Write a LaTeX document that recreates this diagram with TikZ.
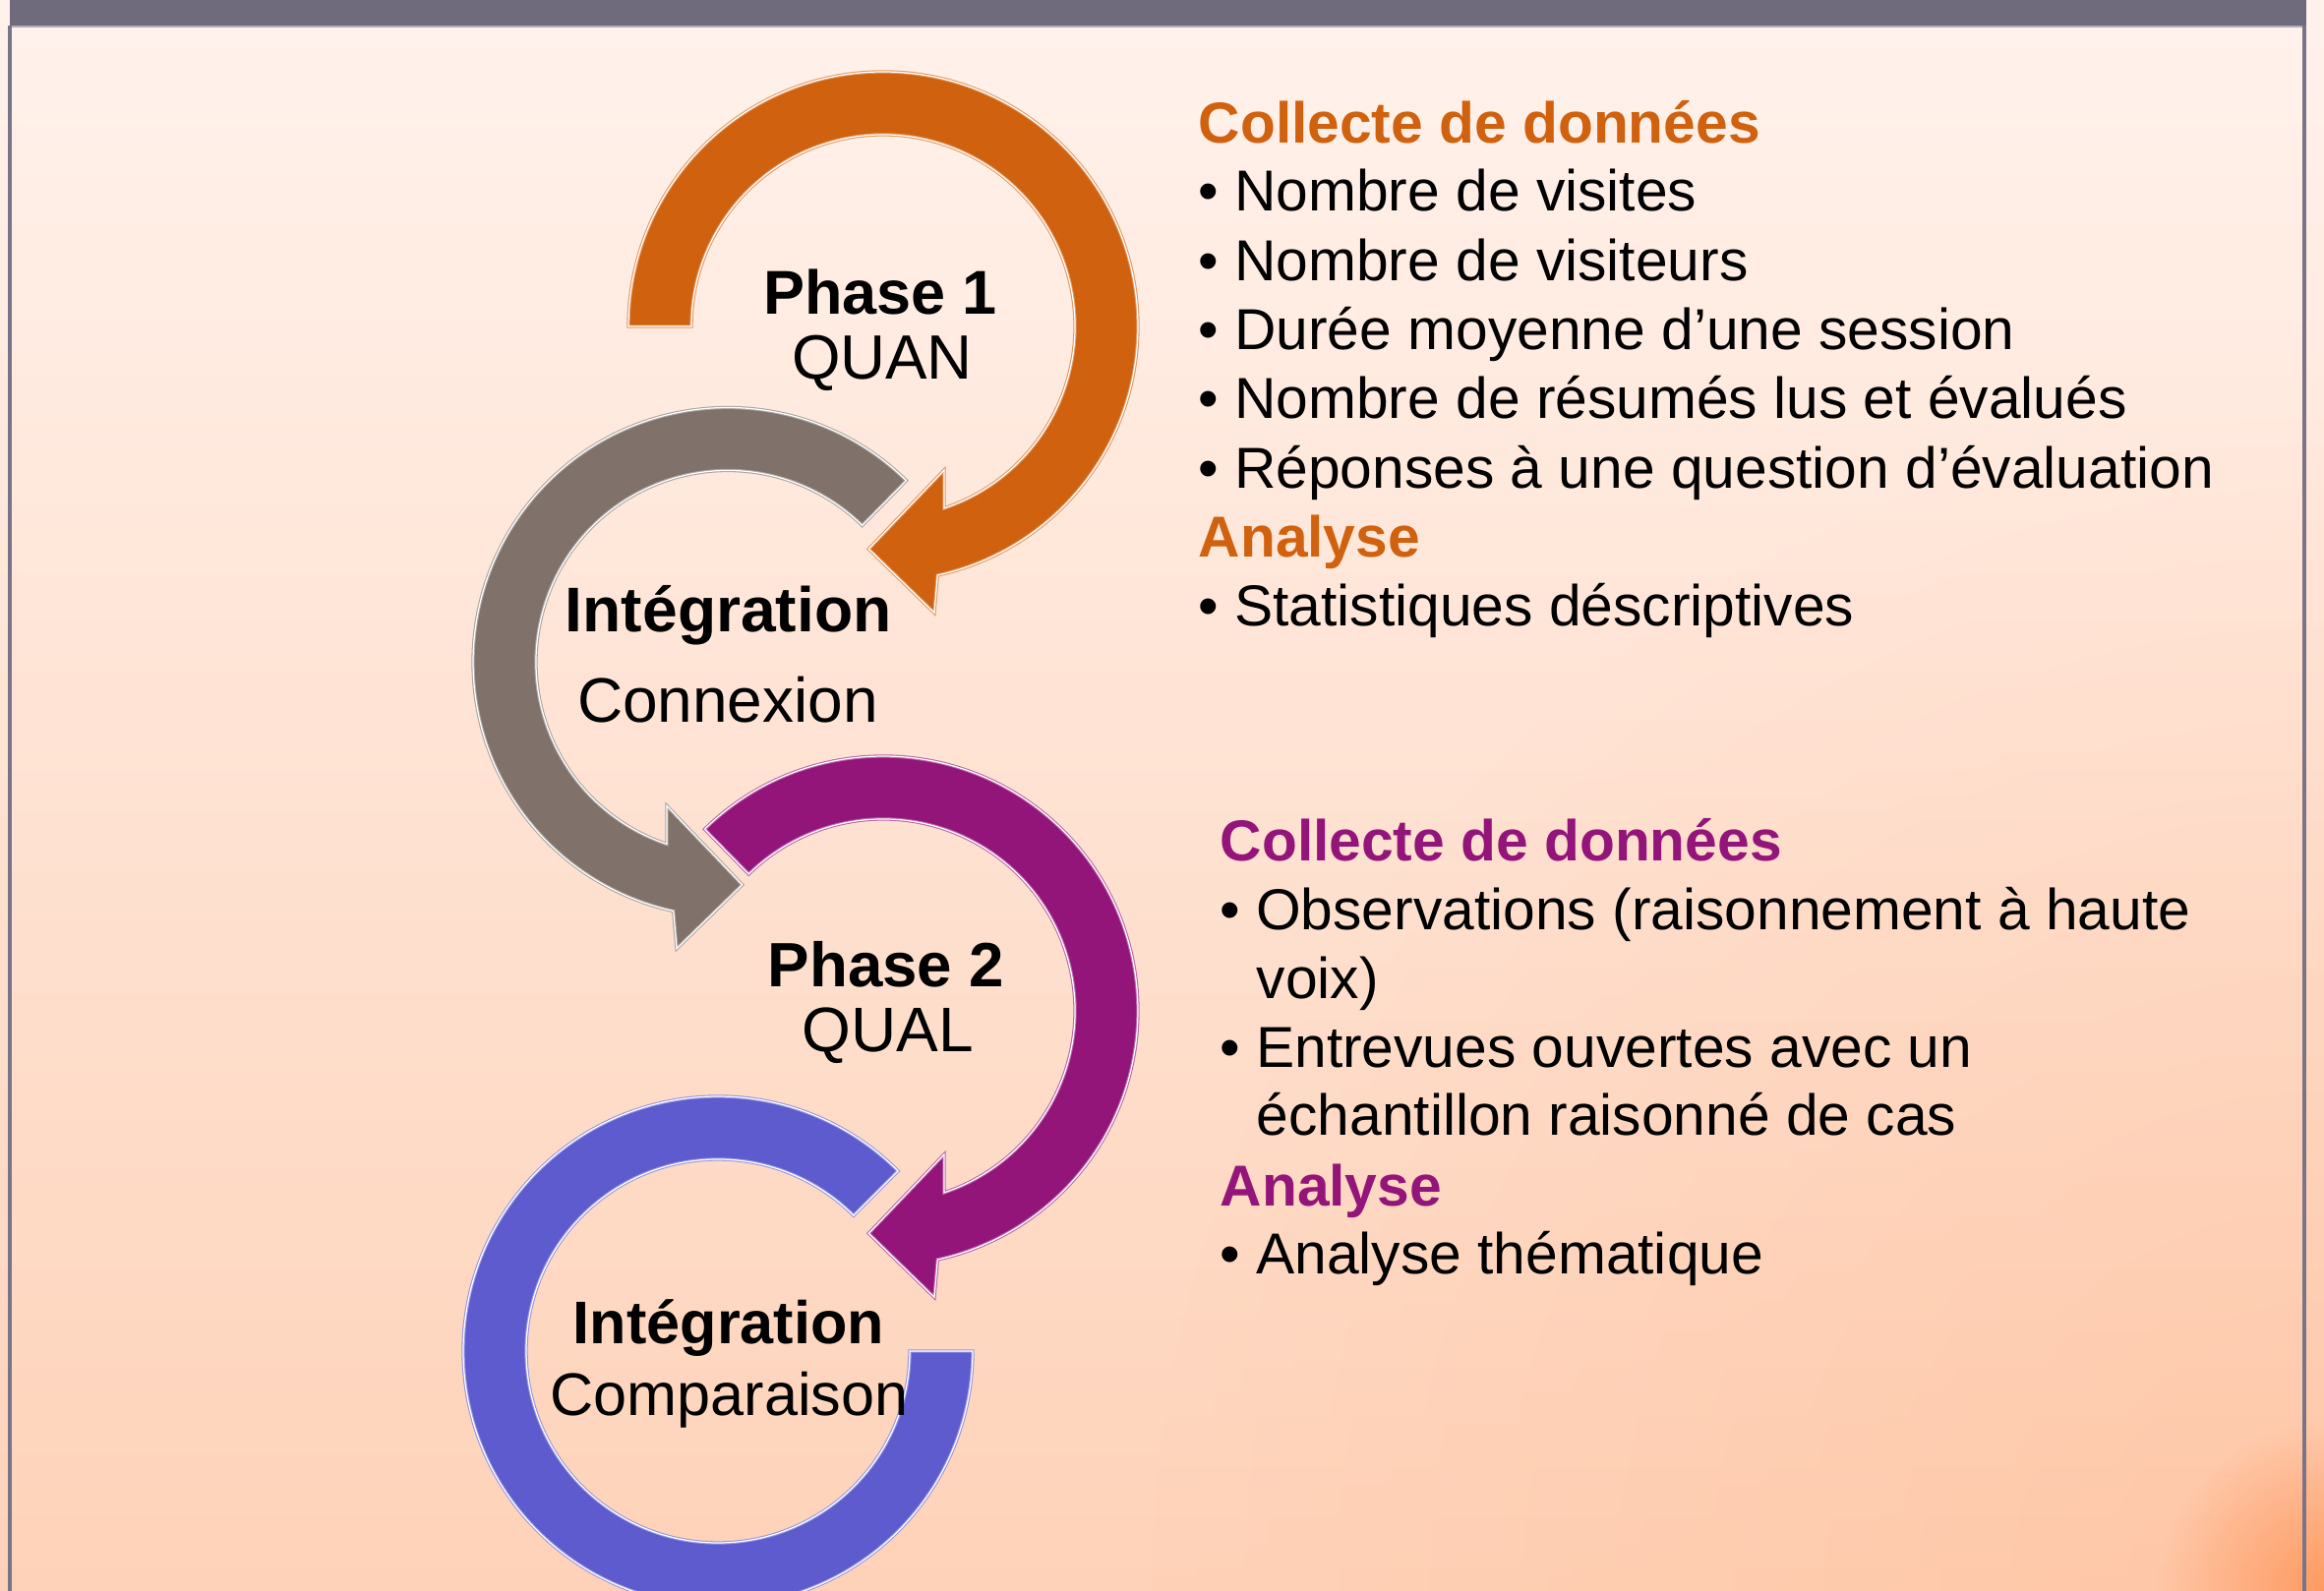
\documentclass[tikz,border=0pt]{standalone}
\usepackage{fontspec}
\setmainfont{Liberation Sans}
\usetikzlibrary{fadings}
\definecolor{bgtop}{RGB}{255,242,236}
\definecolor{bgbot}{RGB}{254,210,184}
\definecolor{glowcol}{RGB}{255,150,90}
\definecolor{barcol}{RGB}{111,107,125}
\definecolor{bordercol}{RGB}{122,116,136}
\definecolor{orcol}{RGB}{208,97,14}
\definecolor{grcol}{RGB}{128,113,107}
\definecolor{pucol}{RGB}{148,21,122}
\definecolor{blcol}{RGB}{94,91,207}
\tikzfading[name=glowfade, inner color=transparent!0, outer color=transparent!100]
\tikzset{
  ring/.style={fill=#1, draw=#1!65!white, double=white, double distance=0.35pt, line width=0.3pt},
  bigtxt/.style={inner sep=0pt, anchor=base, font=\fontsize{#1}{#1}\selectfont},
  rtxt/.style={inner sep=0pt, anchor=base west, font=\fontsize{16.7}{20}\selectfont},
  rhead/.style={rtxt, text=#1, font=\fontsize{16.7}{20}\selectfont\bfseries}
}
\newcommand{\bul}{\makebox[10.4pt][l]{•}}
\begin{document}
\begin{tikzpicture}[x=0.01cm,y=0.01cm]
\useasboundingbox (0,0) rectangle (2363,1618);
% background
\shade[top color=bgtop, bottom color=bgbot] (0,0) rectangle (2363,1618);
\fill[glowcol, opacity=0.2, path fading=glowfade] (2363,0) circle (1200);
\fill[glowcol, opacity=0.9, path fading=glowfade] (2363,0) circle (170);
% frame
\fill[barcol] (10,1592) rectangle (2345,1618);
\draw[color=barcol!55!white, line width=0.6pt] (10,1591) -- (2345,1591);
\draw[bordercol, line width=0.9pt] (10,0) -- (10,1592);
\draw[bordercol, line width=0.9pt] (2343,0) -- (2343,1592);

% blue ring
\begin{scope}[shift={(730,244)}]
\path[ring=blcol] (45:259) arc[start angle=45, end angle=360, radius=259]
  -- (195,0) arc[start angle=360, end angle=45, radius=195] -- cycle;
\end{scope}
% purple arrow
\begin{scope}[shift={(898,590)}]
\path[ring=pucol] (134.5:259) arc[start angle=134.5, end angle=-77.67, radius=259]
  -- (52,-291.3) -- (-14.7,-226.3) -- (62,-146) -- (-71.44:195)
  arc[start angle=-71.44, end angle=134.5, radius=195] -- cycle;
\end{scope}
% gray arrow
\begin{scope}[shift={(740,944.5)}]
\path[ring=grcol] (45.5:259) arc[start angle=45.5, end angle=257.67, radius=259]
  -- (-52,-291.3) -- (14.7,-226.3) -- (-62,-146) -- (251.44:195)
  arc[start angle=251.44, end angle=45.5, radius=195] -- cycle;
\end{scope}
% orange arrow
\begin{scope}[shift={(898,1286)}]
\path[ring=orcol] (180:259) arc[start angle=180, end angle=-77.67, radius=259]
  -- (52,-291.3) -- (-14.7,-226.3) -- (62,-146) -- (-71.44:195)
  arc[start angle=-71.44, end angle=180, radius=195] -- cycle;
\end{scope}

% centre labels
\node[bigtxt=17.9] (p1) at (895,1298) {\bfseries Phase 1};
\node[bigtxt=18.1] (q1) at (897,1232) {QUAN};
\node[bigtxt=18.25] (i1) at (740.7,975) {\bfseries Intégration};
\node[bigtxt=18.2] (c1) at (740,883) {Connexion};
\node[bigtxt=18.1] (p2) at (901,614) {\bfseries Phase 2};
\node[bigtxt=18.2] (q2) at (903,548) {QUAL};
\node[bigtxt=17.4] (i2) at (741,251) {\bfseries Intégration};
\node[bigtxt=17.4] (c2) at (741.5,178.5) {Comparaison};

% right block 1
\node[rhead=orcol] (h1) at (1218,1472.1) {Collecte de données};
\node[rtxt] (a1) at (1218,1403) {\bul Nombre de visites};
\node[rtxt] (a2) at (1218,1332.7) {\bul Nombre de visiteurs};
\node[rtxt] (a3) at (1218,1262.4) {\bul Durée moyenne d’une session};
\node[rtxt] (a4) at (1218,1192.1) {\bul Nombre de résumés lus et évalués};
\node[rtxt] (a5) at (1218,1121.8) {\bul Réponses à une question d’évaluation};
\node[rhead=orcol] (h2) at (1218,1051.5) {Analyse};
\node[rtxt] (a6) at (1218,981.2) {\bul Statistiques déscriptives};

% right block 2
\node[rhead=pucol] (h3) at (1240,742.4) {Collecte de données};
\node[rtxt] (b1) at (1240,672.1) {\bul Observations (raisonnement à haute};
\node[rtxt] (b2) at (1277,602.4) {voix)};
\node[rtxt] (b3) at (1240,532.8) {\bul Entrevues ouvertes avec un};
\node[rtxt] (b4) at (1277,463.2) {échantillon raisonné de cas};
\node[rhead=pucol] (h4) at (1240,391.9) {Analyse};
\node[rtxt] (b5) at (1240,322.2) {\bul Analyse thématique};
\end{tikzpicture}
\end{document}
